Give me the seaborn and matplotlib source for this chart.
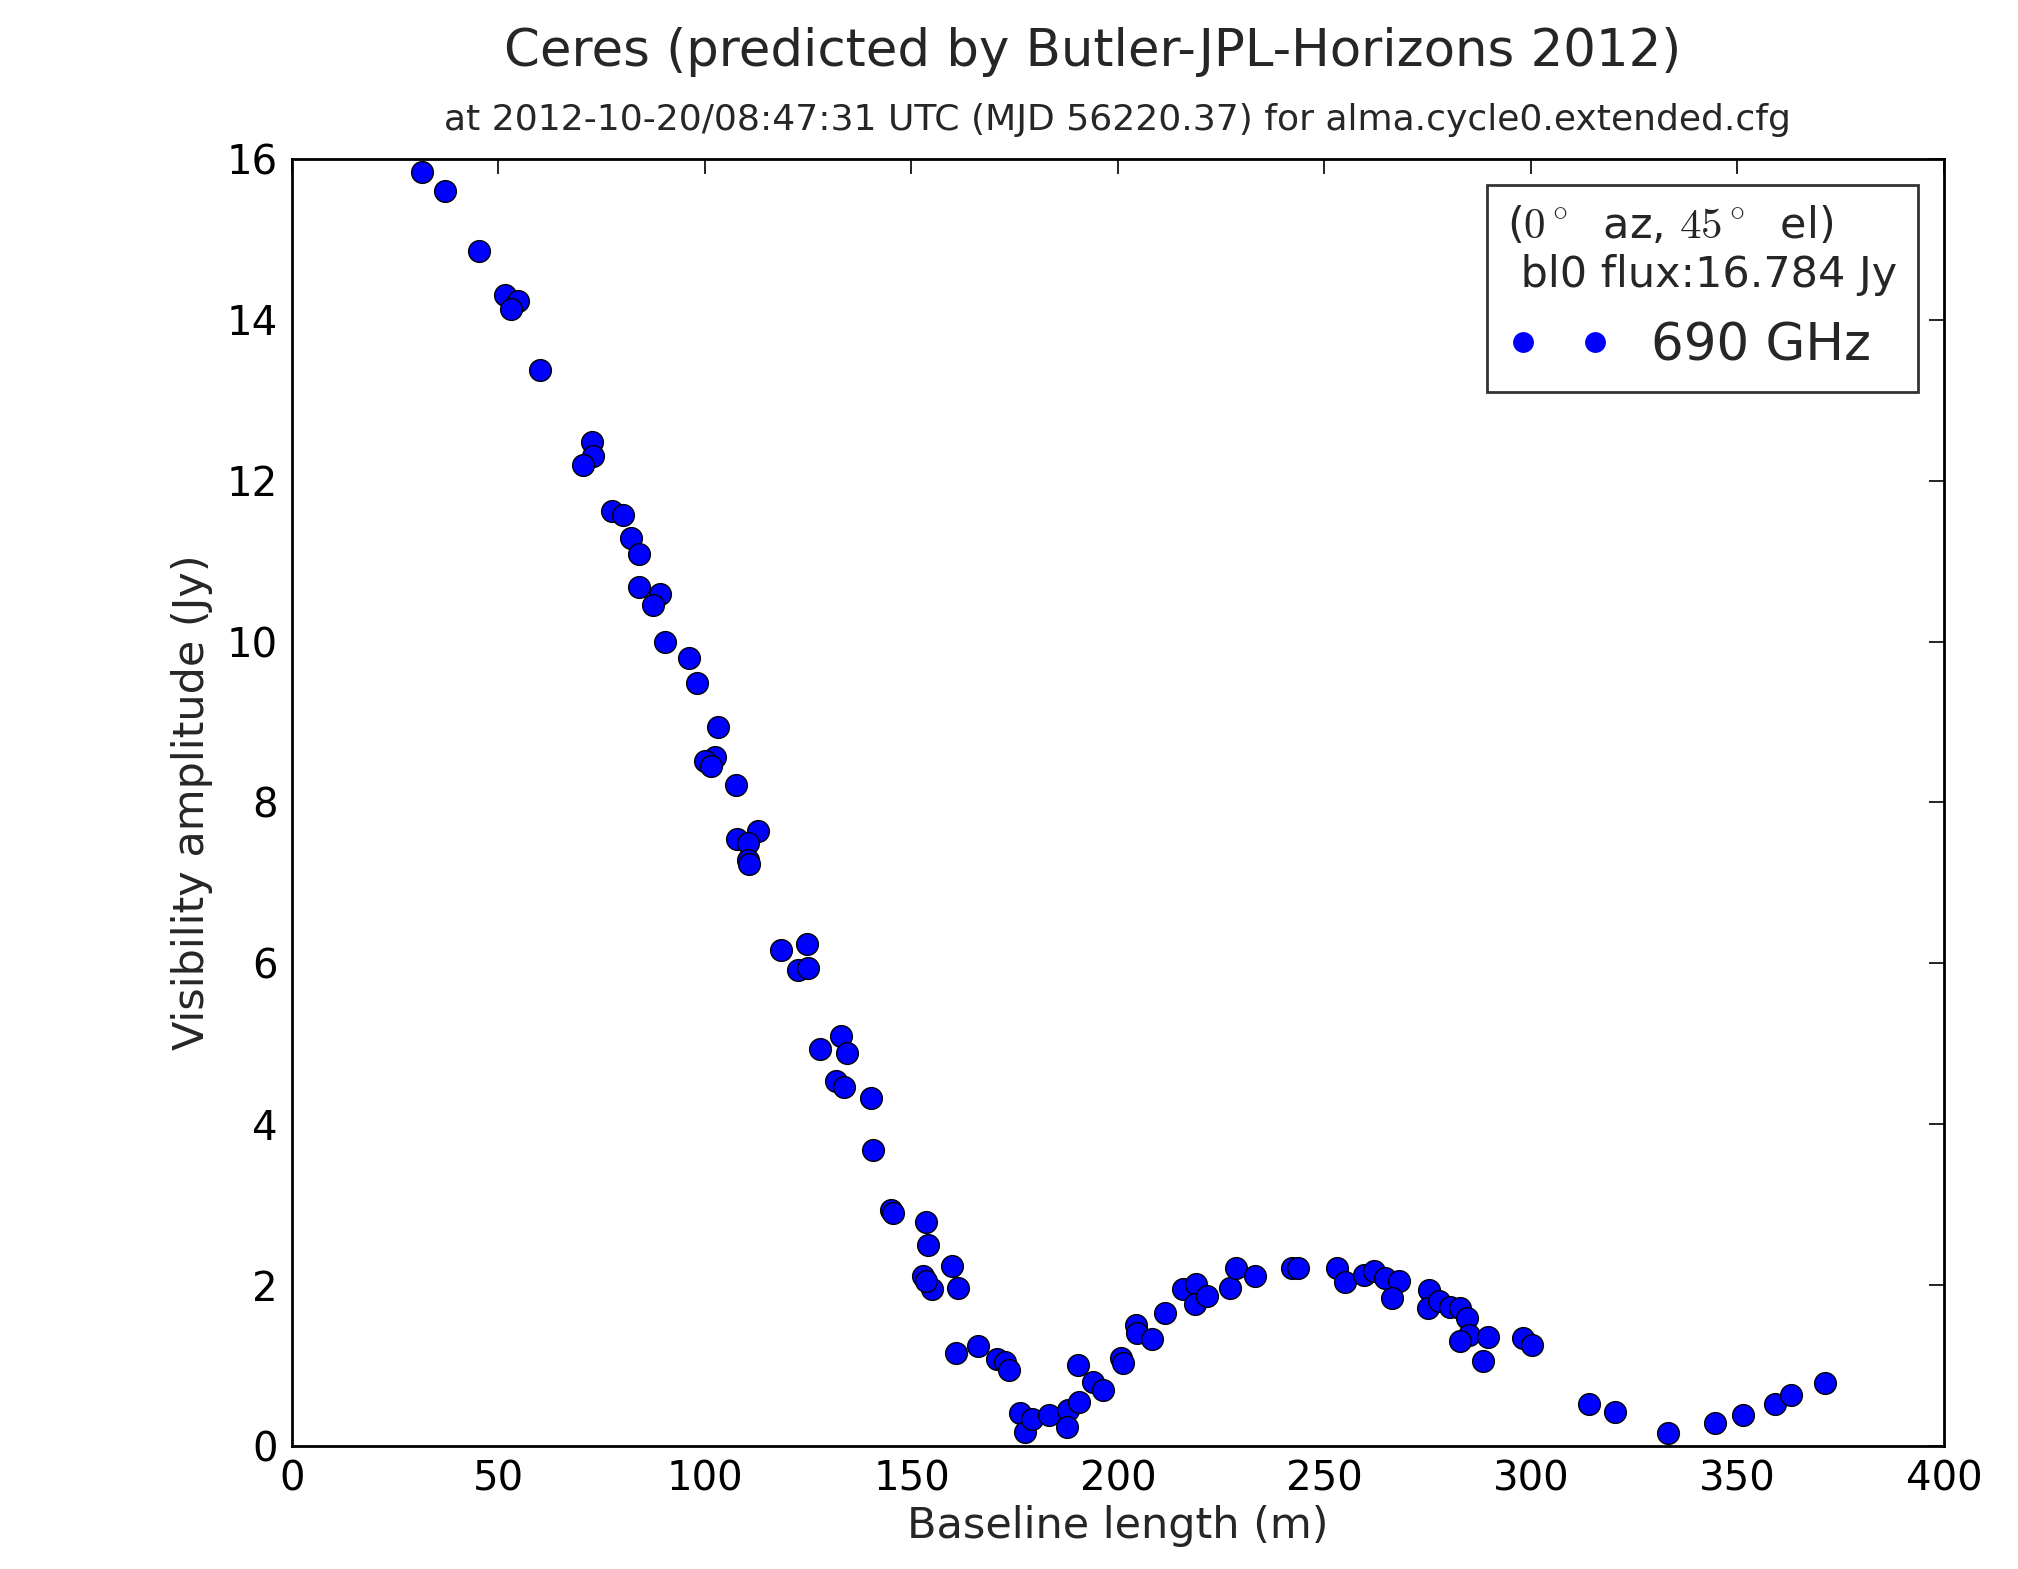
import matplotlib
matplotlib.use("Agg")
import matplotlib.pyplot as plt
from matplotlib.lines import Line2D
import seaborn as sns
import pandas as pd

# ---- data ----
baseline_m = [31.4, 37.0, 45.3, 51.6, 54.8, 53.0, 60.0, 72.6, 72.8, 70.5,
              77.6, 80.2, 82.2, 84.1, 84.0, 89.1, 87.3, 90.4, 96.2, 98.0,
              103.1, 102.5, 100.1, 101.4, 107.6, 112.8, 107.7, 110.5, 110.3, 110.7,
              118.4, 124.8, 122.6, 125.0, 133.0, 127.9, 134.4, 131.7, 133.7, 140.1,
              140.6, 145.0, 145.6, 153.5, 154.1, 159.9, 152.9, 154.9, 161.3, 153.5,
              160.9, 166.2, 170.6, 172.6, 173.7, 176.3, 177.6, 179.3, 183.4, 188.0,
              187.7, 190.6, 190.4, 193.9, 196.3, 200.7, 201.1, 204.4, 204.5, 208.2,
              211.4, 215.8, 219.0, 218.6, 221.5, 227.1, 228.6, 233.2, 242.1, 243.7,
              253.0, 255.0, 259.5, 262.0, 264.6, 268.1, 266.3, 275.3, 275.1, 277.8,
              280.3, 282.9, 284.4, 285.0, 282.9, 289.7, 288.5, 298.0, 300.2, 314.0,
              320.3, 333.1, 344.5, 351.4, 359.1, 362.9, 371.3]
amplitude_jy = [15.84, 15.60, 14.85, 14.31, 14.24, 14.13, 13.38, 12.48, 12.31, 12.20,
                11.62, 11.57, 11.29, 11.09, 10.68, 10.59, 10.45, 9.99, 9.79, 9.49,
                8.94, 8.57, 8.52, 8.45, 8.22, 7.64, 7.54, 7.50, 7.29, 7.23,
                6.17, 6.24, 5.92, 5.94, 5.10, 4.93, 4.89, 4.54, 4.46, 4.32,
                3.68, 2.93, 2.90, 2.78, 2.50, 2.24, 2.11, 1.95, 1.97, 2.05,
                1.16, 1.24, 1.08, 1.05, 0.95, 0.41, 0.18, 0.33, 0.39, 0.45,
                0.24, 0.55, 1.01, 0.80, 0.70, 1.09, 1.03, 1.51, 1.40, 1.33,
                1.65, 1.95, 2.01, 1.77, 1.86, 1.97, 2.21, 2.11, 2.21, 2.21,
                2.21, 2.04, 2.13, 2.17, 2.09, 2.05, 1.84, 1.94, 1.71, 1.80,
                1.73, 1.72, 1.59, 1.38, 1.30, 1.36, 1.06, 1.34, 1.26, 0.52,
                0.42, 0.16, 0.29, 0.39, 0.52, 0.64, 0.78]

x_ticks = [0, 50, 100, 150, 200, 250, 300, 350, 400]
y_ticks = [0, 2, 4, 6, 8, 10, 12, 14, 16]

title_main = "Ceres (predicted by Butler-JPL-Horizons 2012)"
title_sub = "at 2012-10-20/08:47:31 UTC (MJD 56220.37) for alma.cycle0.extended.cfg"
legend_title = "($0^\\circ$  az, $45^\\circ$  el)\n bl0 flux:16.784 Jy"
legend_label = "690 GHz"

df = pd.DataFrame({"baseline": baseline_m, "amp": amplitude_jy})

sns.set_style("white")
plt.rcParams["font.family"] = ["DejaVu Sans"]
plt.rcParams["mathtext.fontset"] = "cm"

fig = plt.figure(figsize=(20.18, 15.69), dpi=100)
ax = fig.add_axes([0.1447, 0.0784, 0.8186, 0.8203])

sns.scatterplot(data=df, x="baseline", y="amp", ax=ax, color="blue",
                s=245, edgecolor="black", linewidth=1.0, legend=False, zorder=3)

ax.set_xlim(0, 400)
ax.set_ylim(0, 16)
ax.set_xticks(x_ticks)
ax.set_yticks(y_ticks)
ax.tick_params(axis="both", which="major", direction="in", length=11, width=1.2,
               labelsize=29, pad=10, top=True, right=True, colors="black")
for sp in ax.spines.values():
    sp.set_linewidth(2.0)
    sp.set_color("black")
    sp.set_visible(True)

ax.set_xlabel("Baseline length (m)", fontsize=31, labelpad=4)
ax.set_ylabel("Visibility amplitude (Jy)", fontsize=31, labelpad=10)

fig.text(0.5415, 0.967, title_main, ha="center", va="center", fontsize=37)
fig.text(0.5535, 0.9235, title_sub, ha="center", va="center", fontsize=26)

handle = Line2D([], [], marker="o", color="blue", linestyle="",
                markeredgecolor="none", markersize=15)
leg = ax.legend([handle], [legend_label], loc="upper right", numpoints=2,
                fontsize=37, title=legend_title, title_fontsize=31,
                frameon=True, fancybox=False, edgecolor="black",
                borderaxespad=0.5, handlelength=2.0, handletextpad=0.8,
                borderpad=0.4, alignment="left")
leg.get_frame().set_linewidth(2.0)

fig.savefig("out.png", dpi=100, facecolor="white")
